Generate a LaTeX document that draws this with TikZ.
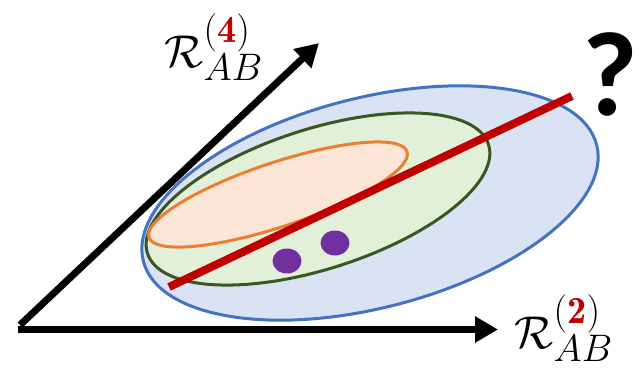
\documentclass[tikz,border=0pt]{standalone}
\usepackage{fontspec}
\usetikzlibrary{arrows.meta}
\newfontfamily\qfont{Carlito}
\definecolor{axred}{HTML}{C00000}
\definecolor{bluefill}{HTML}{DAE3F3}
\definecolor{bluedraw}{HTML}{4472C4}
\definecolor{greenfill}{HTML}{E2F0D9}
\definecolor{greendraw}{HTML}{385723}
\definecolor{orangefill}{HTML}{FBE5D6}
\definecolor{orangedraw}{HTML}{ED7D31}
\definecolor{dotpurple}{HTML}{7030A0}
\begin{document}
\begin{tikzpicture}[x=1pt,y=-1pt,
  axis/.style={line width=7pt,-{Triangle[length=23pt,width=25pt]}},
  region/.style={line width=3pt},
  lab/.style={inner sep=0pt,font=\Huge,scale=1.85},
  dot/.style={fill=dotpurple,draw=none}]
\useasboundingbox (0,0) rectangle (639,369);
% ellipses
\draw[region,fill=bluefill,draw=bluedraw,shift={(370,203)},rotate=14.4] (0,0) ellipse [x radius=234pt,y radius=105pt];
\draw[region,fill=greenfill,draw=greendraw,shift={(318,199)},rotate=17.7] (0,0) ellipse [x radius=179pt,y radius=70pt];
\draw[region,fill=orangefill,draw=orangedraw,shift={(278,194.5)},rotate=18.4] (0,0) ellipse [x radius=136pt,y radius=32pt];
% red line
\coordinate (r1) at (169,287);
\coordinate (r2) at (572,96);
\draw[axred,line width=8pt] (r1) -- (r2);
% dots
\fill[dot] (287,261) ellipse [x radius=14.5pt,y radius=12.5pt];
\fill[dot] (335,243) ellipse [x radius=14.5pt,y radius=12.5pt];
% axes
\coordinate (O) at (18,329.5);
\coordinate (xe) at (498,329.5);
\coordinate (O2) at (20,325);
\coordinate (ye) at (319,43);
\draw[axis] (O) -- (xe);
\draw[axis] (O2) -- (ye);
% labels
\node[lab] (l4) at (214,47) {$\mathcal{R}_{AB}^{(\textcolor{axred}{\mathbf{4}})}$};
\node[lab] (l2) at (564,328) {$\mathcal{R}_{AB}^{(\textcolor{axred}{\mathbf{2}})}$};
\node[inner sep=0pt,anchor=east,font=\qfont\bfseries\fontsize{120}{124}\selectfont] (q) at (638.5,74) {?};
\end{tikzpicture}
\end{document}
